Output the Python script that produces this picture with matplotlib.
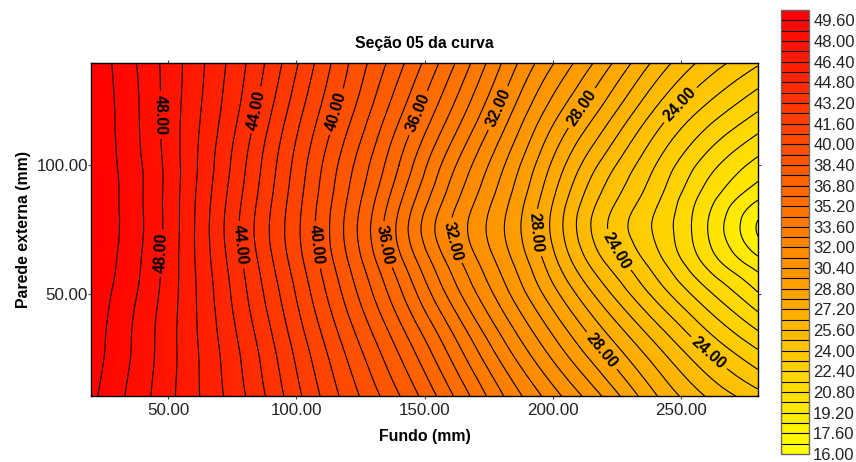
import matplotlib
matplotlib.use('Agg')
import matplotlib.pyplot as plt
import matplotlib.tri as mtri
from matplotlib.cm import ScalarMappable
from matplotlib.colors import BoundaryNorm
import numpy as np

plt.rcParams['font.family'] = ['Liberation Sans', 'DejaVu Sans']

fundo = [20, 40, 60, 80, 100, 120, 140, 160, 180, 200, 220, 240, 260, 280]
parede = [10, 30, 50, 62, 75, 88, 100, 120, 140]

# temperatures read row by row, from the bottom of the chart to the top
t_010 = [49.80, 48.27, 46.60, 44.83, 42.65, 40.46, 38.45, 36.16, 33.70, 31.55, 29.50, 27.28, 25.54, 24.30]
t_030 = [50.00, 48.43, 46.57, 44.53, 42.15, 39.75, 37.40, 34.85, 32.25, 29.90, 27.70, 25.65, 23.75, 22.20]
t_050 = [50.15, 48.62, 46.52, 44.11, 41.55, 38.90, 36.20, 33.35, 30.80, 28.30, 25.90, 23.75, 21.80, 20.05]
t_062 = [50.25, 48.75, 46.47, 43.88, 41.20, 38.45, 35.50, 32.60, 30.15, 27.50, 24.85, 22.80, 20.60, 18.75]
t_075 = [50.30, 48.85, 46.45, 43.68, 41.00, 38.17, 35.00, 32.00, 29.73, 27.02, 24.16, 22.28, 20.05, 17.50]
t_088 = [50.30, 48.83, 46.50, 43.85, 41.15, 38.40, 35.45, 32.50, 30.05, 27.30, 24.60, 22.65, 20.45, 18.60]
t_100 = [50.30, 48.80, 46.58, 44.05, 41.35, 38.70, 36.00, 33.10, 30.55, 27.85, 25.30, 23.20, 21.20, 19.70]
t_120 = [50.28, 48.69, 46.68, 44.50, 41.90, 39.45, 36.95, 34.35, 31.70, 29.10, 26.85, 24.60, 22.85, 21.50]
t_140 = [50.25, 48.60, 46.80, 44.85, 42.50, 40.05, 37.85, 35.45, 32.80, 30.45, 28.35, 26.20, 24.50, 23.30]

temps = np.array([t_010, t_030, t_050, t_062, t_075, t_088, t_100, t_120, t_140])
niveis = 16 + 0.8 * np.arange(44)
niveis_rotulo = niveis[10::5]
niveis_resto = np.array([n for n in niveis if n not in niveis_rotulo])
niveis_cor = 16 + 0.1 * np.arange(345)  # the fill is a soft gradient, only the lines keep the 0.8 step

# matplotlib's own triangulation refiner, so the contours drawn through the table come out curved
xx, yy = np.meshgrid(fundo, parede)
malha = mtri.Triangulation(xx.ravel(), yy.ravel())
malha_fina, temps_fina = mtri.UniformTriRefiner(malha).refine_field(temps.ravel(), subdiv=3)

W, H = 856, 462
fig = plt.figure(figsize=(W / 100, H / 100), dpi=100)
ax = fig.add_axes([91 / W, 1 - 396 / H, 667 / W, 333 / H])
ax.tricontourf(malha_fina, temps_fina, levels=niveis_cor, cmap='autumn_r')
ax.tricontour(malha_fina, temps_fina, levels=niveis_resto, colors='black', linewidths=0.8)
linhas = ax.tricontour(malha_fina, temps_fina, levels=niveis_rotulo, colors='black', linewidths=0.8)
# contour label spots, given as pixels of the picture
manual = [(20 + (p - 91) / 2.565, 10 + (396 - q) / 2.56) for p, q in
          [(160, 115), (160, 253), (255, 110), (240, 245), (337, 112), (316, 245), (415, 112), (384, 245),
           (495, 107), (456, 240), (580, 107), (535, 233), (600, 352), (680, 105), (618, 250), (706, 356)]]
rotulos = ax.clabel(linhas, fmt='%.2f', manual=manual, inline=True, inline_spacing=4, fontsize=11.5)
for r in rotulos:
    r.set_fontweight('bold')

ax.set_xlim(20, 280)
ax.set_ylim(10, 140)
ax.set_xticks([50, 100, 150, 200, 250])
ax.set_yticks([50, 100])
ax.xaxis.set_major_formatter('{x:.2f}')
ax.yaxis.set_major_formatter('{x:.2f}')
ax.tick_params(top=True, right=True, direction='out', length=2.2, width=0.8, color='#444444',
               labelsize=12.2, labelcolor='#222222')
ax.tick_params(axis='x', pad=3)
ax.tick_params(axis='y', pad=0)
for s in ax.spines.values():
    s.set_linewidth(1.0)
ax.set_title('Seção 05 da curva', fontsize=11.4, fontweight='bold', pad=11)
ax.set_xlabel('Fundo (mm)', fontsize=11.4, fontweight='bold', labelpad=8)
ax.set_ylabel('Parede externa (mm)', fontsize=11.4, fontweight='bold', labelpad=4)

cax = fig.add_axes([781 / W, 1 - 454 / H, 28 / W, 444 / H])
escala = ScalarMappable(norm=BoundaryNorm(niveis, 256), cmap='autumn_r')
cb = fig.colorbar(escala, cax=cax, drawedges=True, spacing='proportional')
cb.set_ticks(16 + 1.6 * np.arange(22))
cb.ax.yaxis.set_major_formatter('{x:.2f}')
cb.ax.minorticks_off()
cb.ax.tick_params(length=0, labelsize=12, labelcolor='#222222', pad=3)
cb.dividers.set_color('black')
cb.dividers.set_linewidth(0.8)
cb.outline.set_edgecolor('#666666')
cb.outline.set_linewidth(1.0)

fig.savefig('out.png', dpi=100)
